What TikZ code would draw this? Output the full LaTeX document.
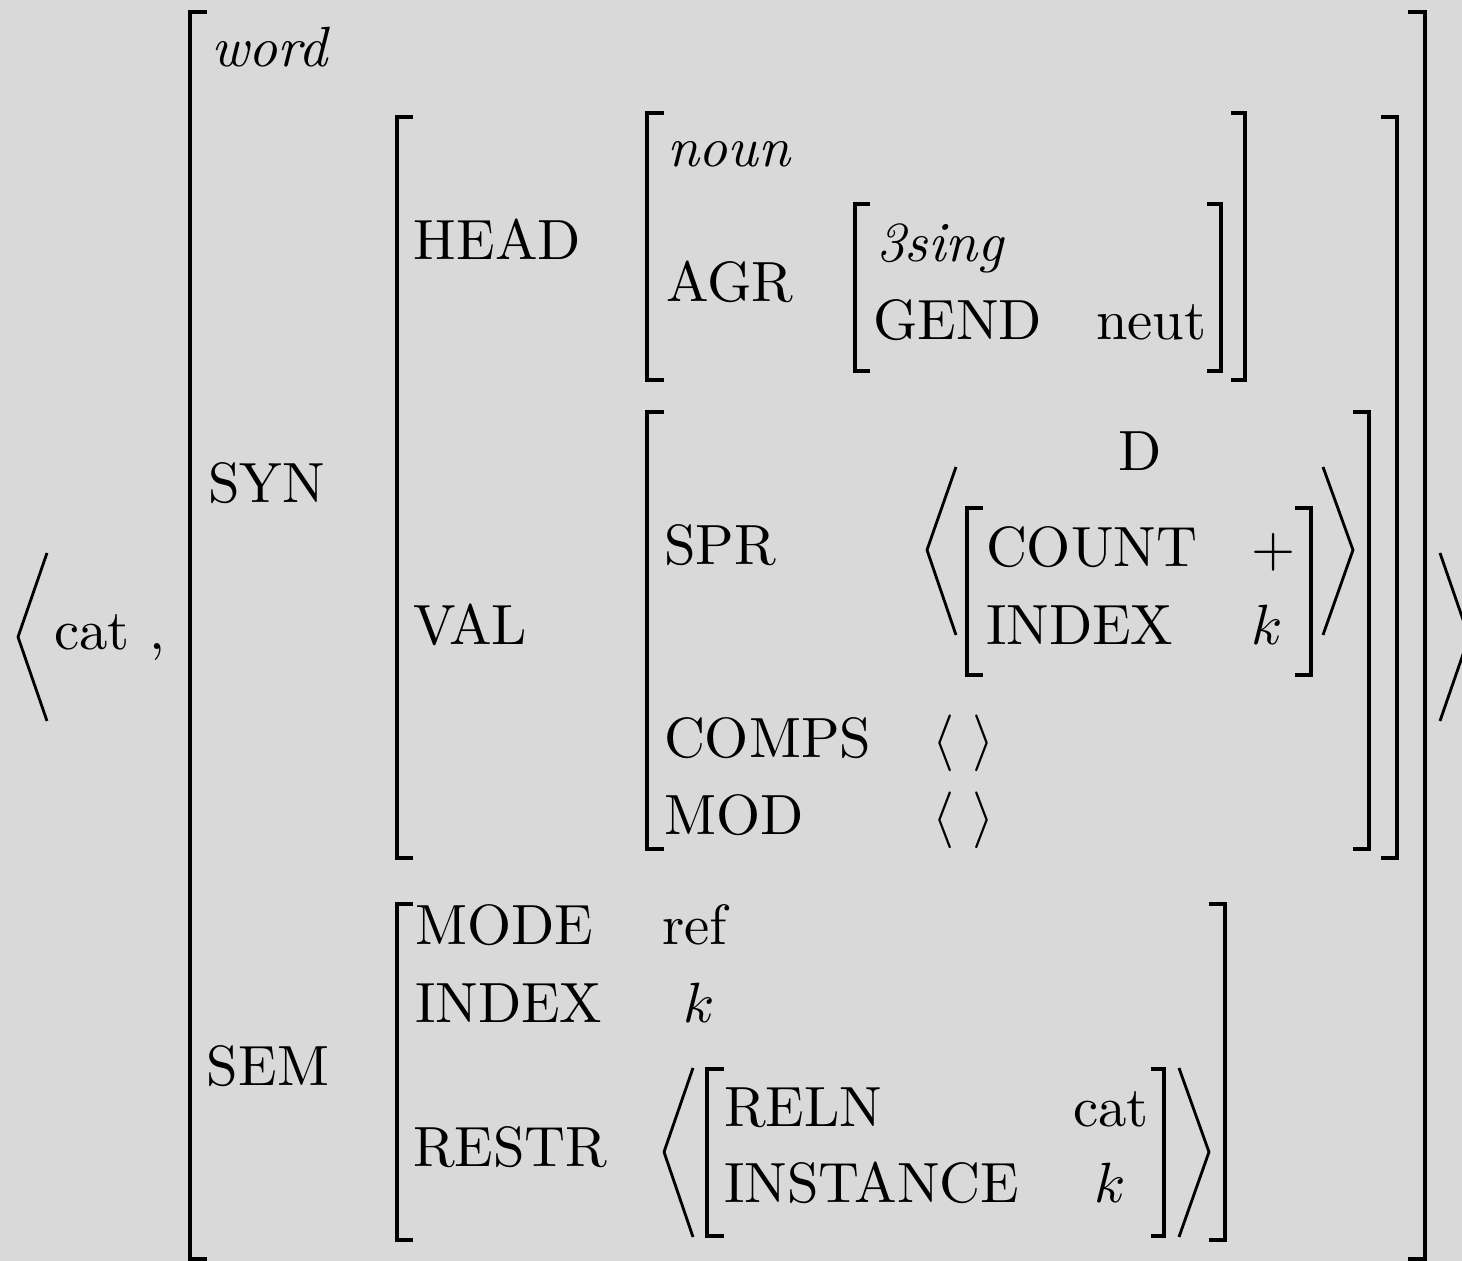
\documentclass[tikz,border=0pt]{standalone}
\begin{document}
\begin{tikzpicture}[x=0.1763pt,y=-0.1763pt,
  lbl/.style={anchor=base west,inner sep=0pt,outer sep=0pt},
  brk/.style={line width=0.59pt},
  ang/.style={line width=0.5pt,line join=miter}]
\definecolor{bgc}{RGB}{217,217,217}
\fill[bgc] (0,0) rectangle (1462,1261);
\useasboundingbox (0,0) rectangle (1462,1261);
% square brackets
\draw[brk] (207,12) -- (190,12) -- (190,1259) -- (207,1259);
\draw[brk] (1408,12) -- (1425,12) -- (1425,1259) -- (1408,1259);
\draw[brk] (413,117) -- (397,117) -- (397,858) -- (413,858);
\draw[brk] (1381,117) -- (1397,117) -- (1397,858) -- (1381,858);
\draw[brk] (664,113) -- (647,113) -- (647,380) -- (664,380);
\draw[brk] (1231,113) -- (1245,113) -- (1245,380) -- (1231,380);
\draw[brk] (870,204) -- (855,204) -- (855,371) -- (870,371);
\draw[brk] (1207,204) -- (1221,204) -- (1221,371) -- (1207,371);
\draw[brk] (664,412) -- (647,412) -- (647,849) -- (664,849);
\draw[brk] (1353,412) -- (1369,412) -- (1369,849) -- (1353,849);
\draw[brk] (983,508) -- (967,508) -- (967,675) -- (983,675);
\draw[brk] (1295,508) -- (1311,508) -- (1311,675) -- (1295,675);
\draw[brk] (413,904) -- (397,904) -- (397,1240) -- (413,1240);
\draw[brk] (1209,904) -- (1225,904) -- (1225,1240) -- (1209,1240);
\draw[brk] (724,1069) -- (707,1069) -- (707,1236) -- (724,1236);
\draw[brk] (1151,1069) -- (1164,1069) -- (1164,1236) -- (1151,1236);
% angle brackets
\draw[ang] (47,553) -- (18,637) -- (47,721);
\draw[ang] (1440,553) -- (1469,637) -- (1440,721);
\draw[ang] (956,467) -- (927,550) -- (956,635);
\draw[ang] (1323,467) -- (1353,550) -- (1323,635);
\draw[ang] (693,1068) -- (664,1152) -- (693,1237);
\draw[ang] (1179,1068) -- (1209,1152) -- (1179,1237);
% texts
\node[lbl] (cat) at (54,650) {cat};
\node[lbl] (comma) at (149,650) {,};
\node[lbl] (word) at (211,67) {\textit{word}};
\node[lbl] (syn) at (208,503) {SYN};
\node[lbl] (sem) at (207,1086) {SEM};
\node[lbl] (head) at (414,260) {HEAD};
\node[lbl] (val) at (413,645) {VAL};
\node[lbl] (noun) at (667,167) {\textit{noun}};
\node[lbl] (agr) at (666,302) {AGR};
\node[lbl] (sing) at (876,262) {\textit{3sing}};
\node[lbl] (gend) at (873,340) {GEND};
\node[lbl] (neut) at (1096,340) {neut};
\node[lbl] (spr) at (664,565) {SPR};
\node[lbl] (d) at (1118,471) {D};
\node[lbl] (count) at (986,567) {COUNT};
\node[lbl] (plus) at (1251,567) {$+$};
\node[lbl] (index1) at (986,645) {INDEX};
\node[lbl] (k1) at (1251,645) {$k$};
\node[lbl] (comps) at (664,758) {COMPS};
\node[lbl] (compsv) at (932,758) {$\langle\hspace{3.3pt}\rangle$};
\node[lbl] (mod) at (664,835) {MOD};
\node[lbl] (modv) at (932,835) {$\langle\hspace{3.3pt}\rangle$};
\node[lbl] (mode) at (415,945) {MODE};
\node[lbl] (ref) at (662,945) {ref};
\node[lbl] (index2) at (415,1023) {INDEX};
\node[lbl] (k2) at (683,1023) {$k$};
\node[lbl] (restr) at (413,1167) {RESTR};
\node[lbl] (reln) at (724,1127) {RELN};
\node[lbl] (cat2) at (1073,1127) {cat};
\node[lbl] (inst) at (724,1203) {INSTANCE};
\node[lbl] (k3) at (1094,1203) {$k$};
\end{tikzpicture}
\end{document}
